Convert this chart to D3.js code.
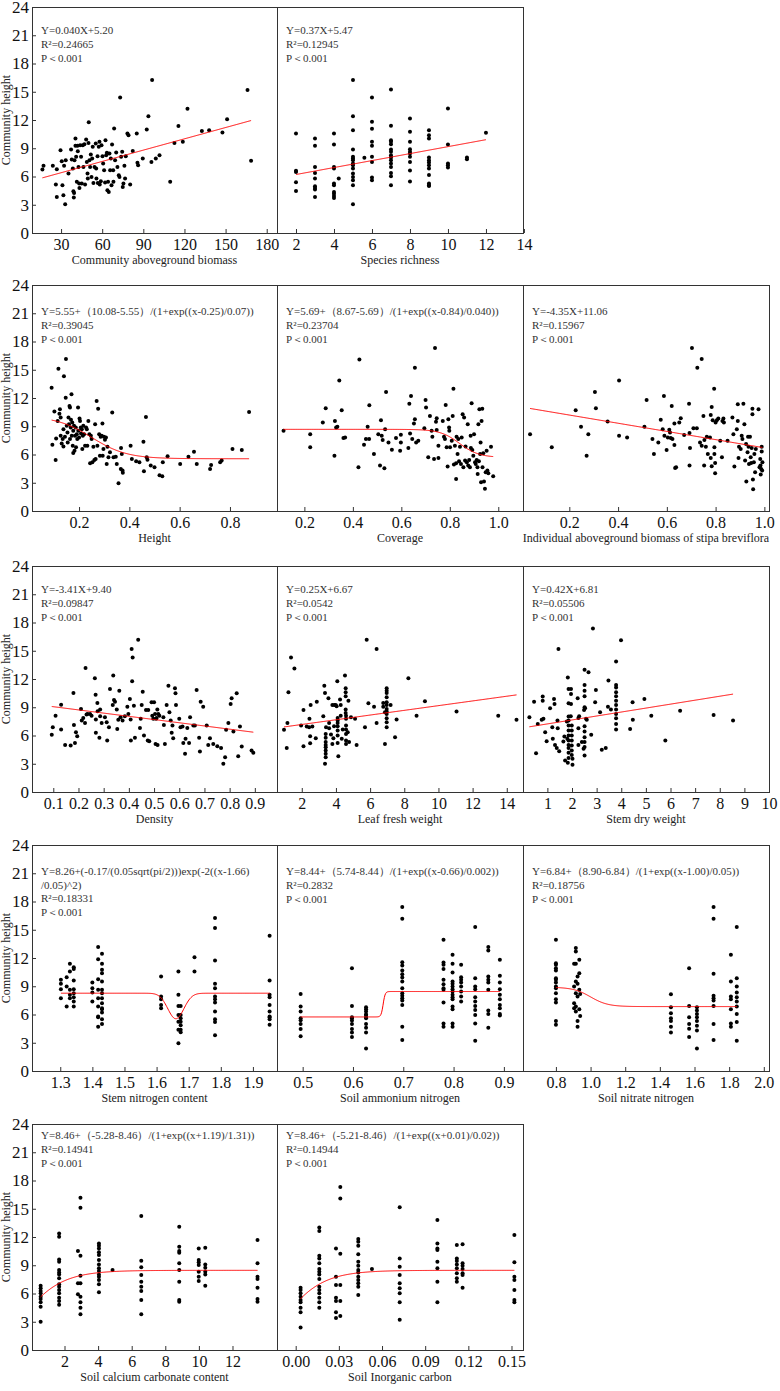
<!DOCTYPE html>
<html>
<head>
<meta charset="utf-8">
<script src="https://cdn.jsdelivr.net/npm/d3@7"></script>
<style>
body { margin: 0; background: #fff; }
svg text { font-family: "Liberation Serif", "Times New Roman", serif; }
</style>
</head>
<body>
<svg width="780" height="1391"></svg>
<script>
// ---- data (x, community height) ----
const biomass = [[16.4,6.74],[17.2,7.13],[24,7.13],[26.2,5.14],[26.9,3.83],[26.9,6.77],[29.6,8.79],[30.5,7.62],[31,5.07],[31.7,4.0],[32.2,7.13],[33,3.05],[33.4,7.73],[35.4,6.31],[37.3,8.87],[37.8,7.8],[38.6,6.84],[39,4.43],[39.3,3.76],[39.5,4.26],[39.8,7.73],[40.5,10.04],[40.5,9.26],[41,8.09],[41.5,5.43],[42,9.26],[42.2,8.69],[42.7,7.02],[43.2,5.25],[43.4,4.79],[43.9,9.33],[44.6,8.09],[45.1,5.25],[45.8,9.33],[46.3,7.02],[47,9.43],[47.5,5.14],[48.3,9.93],[48.8,7.55],[49.3,6.31],[49.5,5.78],[50,9.57],[50.2,11.77],[50.7,7.73],[51.2,7.02],[51.7,8.33],[52.2,5.96],[52.7,7.91],[53.1,9.15],[53.6,5.32],[54.4,7.02],[55.3,9.5],[55.6,6.84],[55.8,5.78],[56.6,8.16],[56.8,5.32],[57.5,9.15],[58,9.68],[58.2,5.14],[59,5.5],[59.5,9.33],[60.2,8.16],[60.7,7.38],[61.4,6.67],[62.1,5.35],[62.4,9.86],[62.9,8.26],[63.4,8.51],[63.8,4.54],[64.3,5.43],[64.8,4.36],[65.3,8.44],[65.8,6.67],[66.3,7.91],[66.8,5.07],[67.2,9.4],[68,6.67],[68.2,5.43],[68.7,11.1],[69.4,7.73],[70.2,8.55],[71.1,7.02],[72.1,6.13],[72.6,5.96],[73.1,14.4],[73.8,8.09],[74.6,8.62],[75,4.89],[75.5,5.25],[76.2,7.13],[76.7,5.78],[77.2,8.16],[78.4,10.57],[79.2,10.39],[80.4,5.14],[82.3,8.72],[85.2,10.57],[85.7,7.45],[86.2,7.2],[89.6,7.91],[92.5,10.99],[93.7,12.41],[95.9,7.55],[96.4,16.24],[99.1,7.91],[101.8,8.26],[109.6,5.43],[112.7,9.57],[115.6,11.35],[118.8,9.68],[122.2,13.19],[132.7,10.82],[138,10.92],[147.7,10.67],[151.1,12.09],[166,15.18],[168.6,7.66]];

// grouped: [x, [heights]]
const richness = [[2,[10.57,6.6,6.49,5.39,4.47]],[3,[10.04,9.26,7.02,6.38,5.78,4.96,4.79,4.61,3.83]],[4,[10.57,9.4,7.02,6.84,5.25,5.07,4.36,4.18,3.94,3.72]],[4.25,[5.78]],[5,[16.24,12.41,10.92,8.87,8.09,7.91,7.73,7.38,7.2,6.84,6.31,5.96,5.6,5.07,3.05]],[5.6,[7.98]],[6,[14.4,11.81,11.06,9.68,9.26,8.09,7.55,5.89,5.6]],[7,[15.25,11.38,9.86,9.68,9.43,8.87,8.62,8.26,8.01,7.73,7.38,7.02,6.38,6.03,5.07]],[8,[12.16,10.74,9.68,8.9,8.62,8.44,8.09,7.55,6.63,5.46]],[9,[10.92,10.39,10.04,8.01,7.73,7.48,7.2,6.84,6.17,5.25,5.07,5.0]],[10,[13.23,9.4,7.38,7.2,6.95]],[11,[8.01,7.84]],[12,[10.64]]];

const heightPts = [[0.091,13.09],[0.094,7.04],[0.102,10.56],[0.107,5.42],[0.109,7.71],[0.115,9.57],[0.118,15.1],[0.122,10.34],[0.124,10.8],[0.127,9.92],[0.127,7.99],[0.131,7.18],[0.135,7.64],[0.138,8.69],[0.138,6.86],[0.14,14.32],[0.144,7.88],[0.147,12.03],[0.148,16.15],[0.151,9.04],[0.154,8.34],[0.155,7.28],[0.158,9.92],[0.16,9.22],[0.162,11.15],[0.164,10.98],[0.164,7.64],[0.167,8.87],[0.168,9.68],[0.17,12.39],[0.171,7.99],[0.173,9.39],[0.175,6.93],[0.177,8.52],[0.177,6.16],[0.18,9.04],[0.182,6.4],[0.184,7.99],[0.187,8.87],[0.188,6.76],[0.191,8.16],[0.193,7.64],[0.196,10.98],[0.197,8.52],[0.2,7.81],[0.202,9.82],[0.204,9.57],[0.207,8.87],[0.208,8.23],[0.211,8.69],[0.213,6.58],[0.215,7.99],[0.217,9.04],[0.22,8.16],[0.224,6.93],[0.228,8.87],[0.231,8.69],[0.233,6.93],[0.237,9.57],[0.241,8.16],[0.244,5.07],[0.247,7.99],[0.25,7.64],[0.253,5.17],[0.257,6.83],[0.261,5.42],[0.264,9.22],[0.266,5.52],[0.27,11.68],[0.273,6.93],[0.276,10.87],[0.28,8.16],[0.283,5.88],[0.286,7.88],[0.29,7.99],[0.293,9.29],[0.294,5.88],[0.297,6.58],[0.299,7.88],[0.303,7.57],[0.307,7.81],[0.31,5.0],[0.313,6.83],[0.317,5.7],[0.323,6.23],[0.332,10.45],[0.337,5.7],[0.346,5.77],[0.35,5.0],[0.357,2.96],[0.366,4.47],[0.367,6.69],[0.37,6.05],[0.373,4.29],[0.374,4.05],[0.405,6.93],[0.41,5.52],[0.427,5.28],[0.44,5.17],[0.456,7.35],[0.458,4.22],[0.466,9.99],[0.469,5.7],[0.472,5.45],[0.485,4.82],[0.5,4.64],[0.52,3.8],[0.531,3.69],[0.533,5.17],[0.552,5.81],[0.602,5.0],[0.635,5.77],[0.657,6.3],[0.668,5.0],[0.721,4.47],[0.725,4.89],[0.761,5.17],[0.767,5.35],[0.81,6.58],[0.847,6.47],[0.876,10.52]];

const coverage = [[0.114,8.52],[0.224,8.16],[0.224,6.76],[0.276,9.39],[0.288,10.91],[0.324,5.88],[0.326,9.57],[0.331,8.87],[0.336,8.94],[0.344,13.86],[0.354,10.7],[0.361,7.74],[0.368,7.81],[0.423,4.64],[0.427,16.08],[0.446,7.04],[0.454,7.64],[0.461,8.94],[0.467,7.64],[0.468,11.22],[0.487,6.05],[0.505,8.16],[0.512,4.82],[0.516,9.64],[0.519,7.99],[0.523,7.53],[0.53,4.54],[0.533,8.69],[0.537,12.63],[0.547,7.28],[0.561,6.51],[0.578,7.74],[0.595,6.4],[0.598,8.09],[0.598,7.28],[0.629,6.69],[0.633,11.4],[0.636,8.23],[0.64,12.21],[0.645,7.64],[0.652,9.29],[0.656,15.2],[0.656,9.75],[0.661,7.28],[0.67,7.46],[0.695,8.8],[0.7,11.79],[0.702,10.98],[0.711,5.7],[0.718,10.1],[0.725,8.52],[0.728,7.88],[0.735,5.52],[0.739,17.31],[0.743,9.47],[0.746,9.85],[0.746,8.59],[0.753,6.93],[0.753,5.63],[0.771,9.57],[0.776,7.88],[0.78,7.64],[0.783,11.26],[0.787,6.76],[0.791,4.72],[0.794,9.75],[0.797,8.87],[0.798,8.52],[0.801,6.76],[0.808,7.46],[0.812,10.1],[0.815,12.98],[0.817,4.93],[0.821,6.93],[0.826,5.07],[0.826,3.41],[0.828,7.88],[0.832,6.05],[0.835,7.64],[0.838,5.28],[0.842,6.83],[0.846,5.0],[0.849,7.81],[0.853,10.27],[0.856,4.64],[0.859,9.92],[0.863,5.35],[0.865,6.86],[0.87,5.17],[0.874,9.22],[0.876,4.82],[0.88,5.42],[0.883,4.64],[0.886,7.99],[0.887,6.69],[0.89,11.44],[0.893,6.47],[0.897,5.88],[0.9,8.16],[0.904,5.17],[0.907,5.0],[0.911,5.42],[0.914,4.64],[0.915,3.94],[0.918,9.22],[0.92,5.28],[0.922,10.8],[0.925,6.05],[0.927,7.28],[0.929,3.06],[0.931,9.57],[0.934,10.87],[0.935,4.64],[0.938,6.12],[0.941,3.13],[0.945,2.36],[0.948,4.12],[0.952,6.4],[0.955,4.29],[0.959,4.01],[0.97,6.83],[0.979,3.69]];

const individual = [[0.039,8.16],[0.128,6.76],[0.226,10.7],[0.248,8.94],[0.271,5.88],[0.278,8.16],[0.305,12.63],[0.309,10.91],[0.357,9.5],[0.404,13.86],[0.404,7.99],[0.437,7.81],[0.508,8.94],[0.517,11.79],[0.541,7.64],[0.547,6.05],[0.565,7.28],[0.575,9.68],[0.583,8.69],[0.588,12.21],[0.59,7.99],[0.599,6.47],[0.604,7.81],[0.61,8.62],[0.613,8.34],[0.616,7.74],[0.62,11.15],[0.623,7.64],[0.631,9.29],[0.631,7.0],[0.634,4.57],[0.638,4.64],[0.651,9.39],[0.657,9.85],[0.671,8.06],[0.691,11.4],[0.693,8.27],[0.695,6.69],[0.693,4.82],[0.703,17.31],[0.709,8.8],[0.723,8.8],[0.725,15.2],[0.736,7.28],[0.743,16.15],[0.743,6.93],[0.75,10.1],[0.753,4.82],[0.754,7.53],[0.76,6.83],[0.764,7.88],[0.768,6.05],[0.777,7.81],[0.78,10.2],[0.78,5.63],[0.784,4.75],[0.784,11.05],[0.788,9.64],[0.794,12.98],[0.795,6.76],[0.795,6.05],[0.798,5.1],[0.798,4.01],[0.8,9.39],[0.805,9.64],[0.811,9.82],[0.819,7.46],[0.826,5.7],[0.828,9.57],[0.832,9.82],[0.834,9.39],[0.849,7.46],[0.869,9.92],[0.873,8.16],[0.877,4.72],[0.887,8.69],[0.891,9.57],[0.891,11.33],[0.894,5.63],[0.896,6.83],[0.903,6.58],[0.907,7.99],[0.91,7.64],[0.914,11.4],[0.918,9.22],[0.921,5.35],[0.925,7.11],[0.926,3.13],[0.931,6.23],[0.933,7.88],[0.935,6.83],[0.937,5.0],[0.941,7.88],[0.944,5.7],[0.946,5.1],[0.948,6.69],[0.951,10.87],[0.951,10.27],[0.953,3.34],[0.954,2.32],[0.957,5.17],[0.959,6.05],[0.962,4.12],[0.965,6.58],[0.976,10.8],[0.98,4.64],[0.983,5.52],[0.984,4.82],[0.985,3.87],[0.987,4.47],[0.989,6.83],[0.989,6.33],[0.991,4.29],[0.992,5.17]];

const density = [[0.094,6.07],[0.098,6.88],[0.109,8.11],[0.131,9.27],[0.131,6.63],[0.147,5.0],[0.169,4.93],[0.18,10.51],[0.182,7.12],[0.186,5.21],[0.19,6.35],[0.195,5.92],[0.21,8.82],[0.213,7.58],[0.219,7.87],[0.226,7.34],[0.228,13.16],[0.232,8.22],[0.236,8.29],[0.246,8.29],[0.252,8.11],[0.265,12.07],[0.268,10.34],[0.269,7.69],[0.269,6.28],[0.275,9.46],[0.276,8.57],[0.283,5.75],[0.286,8.04],[0.286,8.75],[0.292,7.34],[0.305,7.94],[0.312,7.41],[0.314,5.47],[0.321,6.88],[0.325,10.94],[0.336,9.24],[0.338,12.36],[0.341,9.77],[0.345,9.59],[0.352,8.75],[0.354,6.7],[0.358,7.66],[0.362,10.76],[0.367,7.94],[0.375,7.59],[0.384,8.04],[0.394,9.06],[0.398,8.29],[0.404,9.88],[0.407,7.69],[0.408,5.47],[0.411,15.18],[0.413,11.76],[0.415,14.29],[0.42,9.17],[0.424,5.75],[0.437,16.16],[0.444,6.8],[0.447,7.77],[0.451,9.24],[0.455,10.65],[0.46,6.0],[0.468,8.71],[0.475,5.47],[0.477,8.71],[0.481,5.4],[0.49,9.53],[0.493,8.11],[0.497,7.77],[0.5,9.53],[0.504,8.29],[0.506,5.11],[0.508,7.77],[0.51,7.87],[0.513,8.75],[0.514,5.0],[0.517,8.29],[0.521,8.11],[0.537,7.94],[0.539,7.12],[0.543,5.11],[0.55,9.24],[0.557,11.29],[0.561,8.47],[0.566,7.59],[0.57,6.28],[0.573,7.05],[0.576,5.72],[0.583,11.01],[0.585,10.48],[0.587,9.24],[0.6,7.77],[0.605,6.88],[0.613,6.95],[0.616,5.21],[0.623,4.05],[0.625,5.65],[0.632,6.8],[0.639,5.21],[0.643,7.94],[0.656,7.05],[0.662,7.05],[0.669,10.83],[0.679,5.75],[0.682,4.3],[0.685,9.59],[0.695,9.06],[0.709,7.05],[0.715,5.0],[0.722,5.72],[0.735,5.11],[0.751,4.87],[0.766,4.66],[0.775,2.99],[0.782,3.7],[0.786,6.6],[0.795,7.34],[0.804,9.35],[0.808,9.95],[0.815,6.42],[0.828,10.48],[0.834,3.8],[0.841,6.95],[0.848,4.83],[0.887,4.4],[0.894,4.16]];

const leafFresh = [[0.96,6.6],[1.12,4.66],[1.16,7.34],[1.22,10.59],[1.37,14.29],[1.57,13.12],[1.96,7.05],[2.1,8.71],[2.1,4.87],[2.29,6.95],[2.43,6.88],[2.45,7.77],[2.49,5.92],[2.49,5.18],[2.52,9.24],[2.62,6.95],[2.82,5.72],[2.88,9.59],[3.26,8.04],[3.32,11.29],[3.36,10.52],[3.36,3.0],[3.4,6.17],[3.4,5.75],[3.4,5.3],[3.4,5.0],[3.4,4.76],[3.4,4.4],[3.4,4.05],[3.4,3.7],[3.42,6.88],[3.56,9.95],[3.6,7.34],[3.6,6.77],[3.71,6.1],[3.79,9.24],[3.79,5.11],[3.85,5.72],[3.89,6.98],[3.91,9.24],[3.99,9.24],[4.04,9.1],[4.08,11.76],[4.1,7.87],[4.1,7.59],[4.1,7.34],[4.1,6.98],[4.1,6.53],[4.1,6.0],[4.1,5.21],[4.14,3.8],[4.24,9.81],[4.28,9.24],[4.28,8.11],[4.34,5.65],[4.4,6.63],[4.53,12.36],[4.57,11.01],[4.57,10.59],[4.57,10.16],[4.57,8.75],[4.57,8.4],[4.59,8.11],[4.59,7.77],[4.59,7.05],[4.59,6.63],[4.59,6.17],[4.59,5.47],[4.59,5.11],[4.69,6.35],[4.73,9.7],[4.77,5.3],[4.88,7.94],[5.12,7.77],[5.21,5.0],[5.7,6.88],[5.8,16.16],[5.9,9.42],[6.23,9.06],[6.38,15.18],[6.38,7.34],[6.77,9.06],[6.77,9.46],[6.87,8.47],[6.87,5.11],[6.97,11.01],[6.97,10.76],[6.97,10.52],[6.97,10.06],[6.97,9.53],[6.97,9.24],[6.97,8.82],[6.97,8.54],[6.97,8.29],[6.97,7.84],[6.97,7.41],[6.97,6.88],[7.2,9.24],[7.46,5.82],[7.55,7.69],[8.24,12.07],[8.72,8.11],[9.21,9.63],[11.06,8.54],[13.5,8.11],[14.57,7.66]];

const stemDry = [[0.27,7.94],[0.46,9.59],[0.54,4.12],[0.61,7.23],[0.77,7.66],[0.81,10.13],[0.81,9.7],[0.84,7.77],[0.91,6.35],[0.97,5.4],[1.11,8.89],[1.2,6.88],[1.22,5.65],[1.27,9.88],[1.29,9.35],[1.31,5.0],[1.38,4.66],[1.41,7.59],[1.42,6.77],[1.45,15.18],[1.48,4.34],[1.65,5.36],[1.69,5.89],[1.72,3.35],[1.79,7.48],[1.81,5.65],[1.83,12.17],[1.86,10.94],[1.86,9.42],[1.86,8.01],[1.86,7.59],[1.86,7.05],[1.86,6.52],[1.86,5.99],[1.86,5.47],[1.86,5.0],[1.86,4.66],[1.86,4.16],[1.86,3.6],[1.83,3.1],[1.95,8.04],[1.96,10.94],[1.96,10.41],[1.96,9.35],[1.99,7.05],[1.99,6.52],[1.99,5.99],[1.99,5.47],[1.99,4.93],[1.99,4.4],[1.99,3.94],[2.02,2.89],[2.02,3.52],[2.23,9.95],[2.26,7.87],[2.26,6.77],[2.26,5.0],[2.29,8.04],[2.4,5.3],[2.47,4.59],[2.49,8.71],[2.51,12.99],[2.51,11.36],[2.51,10.76],[2.51,10.16],[2.51,8.99],[2.51,6.98],[2.51,6.42],[2.51,5.82],[2.51,5.3],[2.51,4.77],[2.51,3.88],[2.53,8.89],[2.57,7.77],[2.6,7.66],[2.67,12.71],[2.78,6.07],[2.85,17.37],[2.94,9.53],[2.97,10.83],[3.14,8.47],[3.21,4.48],[3.37,4.66],[3.46,9.06],[3.48,11.83],[3.58,8.75],[3.79,13.86],[3.79,11.36],[3.79,11.11],[3.79,10.59],[3.79,10.16],[3.79,9.7],[3.79,9.24],[3.79,8.75],[3.79,8.29],[3.79,7.84],[3.79,7.23],[3.79,6.63],[3.99,16.12],[4.36,6.7],[4.46,9.53],[4.47,7.66],[4.94,9.88],[5.22,8.11],[5.79,5.47],[6.39,8.64],[7.75,8.18],[8.54,7.59]];

const stemN = [[1.302,[9.68,9.26,8.69,7.73]],[1.32,[9.96,8.97,6.84]],[1.33,[8.62,11.38,10.57,8.09,7.73]],[1.342,[11.03,10.82,9.61,8.69,8.26,7.84,7.38,6.84]],[1.4,[9.4,8.79,8.33,7.38]],[1.418,[9.75,11.88,13.16,6.84,5.78,8.62,7.73,5.7,4.7]],[1.43,[10.74,6.56,12.45,11.38,10.39,9.5,8.62,8.26,7.73,7.2,6.67,6.21,5.5,5.0]],[1.614,[10.04,7.91,7.62,7.02,6.67]],[1.668,[10.57,8.09,6.91,5.96,5.23,4.37,2.94]],[1.675,[6.91,5.96,5.6,4.87,4.37,4.12,5.23]],[1.718,[12.09,10.57]],[1.782,[16.24,15.18,11.74,9.26,8.79,7.91,7.62,7.27,6.31,5.5,5.2,3.8]],[1.952,[14.36,9.61,8.09,7.84,7.02,6.31,5.78,5.5,5.7,4.9]]];

const ammonium = [[0.496,[8.19,6.84,6.31,5.6,5.4,5.0,4.45,3.7]],[0.598,[10.92,6.91,5.6,5.7,5.37,5.0,4.45,4.1,3.6]],[0.626,[6.77,6.56,6.31,5.96,5.71,6.0,5.6,5.0,4.6,4.1,2.4]],[0.698,[17.41,16.17,11.56,11.21,10.67,10.28,9.93,9.5,8.79,8.26,7.98,7.73,7.48,7.02,4.7,3.3]],[0.78,[13.94,11.52,11.28,10.82,9.68,9.22,8.79,8.62,7.27,5.05,4.7]],[0.798,[12.34,11.38,10.46,9.5,9.26,8.97,8.69,8.44,8.09,7.84,7.62,6.84,6.56,5.05,4.7]],[0.815,[11.28,9.96,9.68,9.4,8.97,8.44,7.91,7.38]],[0.843,[15.28,9.86,8.97,8.69,7.84,7.38,6.91,6.49,5.96,5.05,3.2]],[0.869,[13.16,12.8,10.04,9.68,9.4,8.62,6.42,6.06,4.6]],[0.892,[11.81,10.11,9.4,8.69,8.09,7.62,7.02,6.67,6.06,5.9]]];

const nitrate = [[0.8,[13.94,11.45,11.28,10.92,10.67,9.86,9.68,9.4,8.97,8.79,8.26,7.62,7.27,5.3,4.9]],[0.905,[11.38,8.97,7.2,6.67]],[0.915,[13.05,12.7,11.38,9.5,8.26,6.84,6.31]],[0.925,[10.04,9.26,7.91,5.3,4.7]],[0.935,[11.81,10.39,8.62,6.56]],[0.94,[8.19,5.85]],[1.464,[8.16,6.77,6.13,5.6,5.3,4.7,4.1]],[1.569,[10.92,6.91,5.71,5.0,4.5,3.6]],[1.614,[6.77,6.42,6.06,5.71,5.3,4.8,4.3,2.4]],[1.71,[17.41,16.17,10.32,7.98,7.73,7.48,6.91,5.0,3.3]],[1.81,[12.34,9.5,7.91,7.62,6.56,5.05,4.7]],[1.844,[15.28,9.86,8.97,8.33,7.84,7.38,6.84,6.06,5.2,3.2]]];

const calcium = [[0.58,[6.83,6.55,6.26,6.02,5.66,5.41,5.06,4.6,3.0]],[1.68,[12.38,12.03,9.62,9.38,8.49,8.24,8.03,7.61,6.97,6.72,6.37,6.02,5.56,5.2,4.8]],[2.8,[10.51,7.08,5.91]],[2.95,[10.01,16.17,15.11,7.89,7.08,5.66,5.06,4.5,3.8]],[4.05,[11.32,11.08,10.79,10.37,10.08,9.55,9.09,8.67,8.39,8.03,7.78,7.43,6.97,6.12]],[4.86,[8.49]],[6.57,[14.23,9.48,8.78,7.96,7.25,6.72,6.26,5.31,3.8]],[8.83,[13.09,10.97,10.51,10.33,9.2,8.49,7.25,5.31,5.13]],[9.99,[10.79,9.55,9.31,9.02,8.32,7.78,7.32]],[10.38,[10.86,9.09,8.74,8.32,8.03,6.83]],[13.49,[11.68,9.2,7.78,7.54,6.62,5.41,5.13]]];

const carbon = [[0.0034,[6.62,6.37,6.02,5.66,5.31,5.06,4.5,4.0,2.4]],[0.0164,[13.02,12.63,10.01,9.73,9.2,8.6,8.32,8.03,7.54,6.72,6.37,6.02,5.56,5.06,4.5]],[0.028,[10.79,7.78,6.9,5.56,5.2,4.0,3.4]],[0.031,[10.23,17.3,16.1,6.9,5.2,3.6]],[0.0435,[11.78,11.5,11.08,10.16,9.38,8.95,8.49,8.24,7.78,7.43,7.08,6.72,5.84]],[0.053,[8.6]],[0.0723,[15.15,9.73,8.85,7.96,7.08,6.55,6.02,5.06,3.2]],[0.0985,[13.8,11.32,10.79,10.62,9.38,8.67,7.25,5.06]],[0.112,[11.15,9.73,9.45,9.09,8.67,8.14,7.61,7.25]],[0.116,[11.22,9.2,8.95,8.6,8.14,7.96,6.62]],[0.152,[12.21,9.31,7.78,7.43,6.37,5.31,5.06]]];

const yTicks = [0, 3, 6, 9, 12, 15, 18, 21, 24];

function flat(groups) {
  const out = [];
  groups.forEach(g => g[1].forEach(v => out.push([g[0], v])));
  return out;
}
function logistic(a1, a2, x0, dx) {
  return x => a2 + (a1 - a2) / (1 + Math.exp((x - x0) / dx));
}

const panels = [
  {row:0, col:0, pts:biomass, dom:[8.8,187.5], ticks:[30,60,90,120,150,180], fmt:d3.format("d"),
   label:"Community aboveground biomass", eq:["Y=0.040X+5.20","R²=0.24665","P＜0.001"], fit:x => 0.040*x + 5.20},
  {row:0, col:1, pts:flat(richness), dom:[1,13.95], ticks:[2,4,6,8,10,12,14], fmt:d3.format("d"),
   label:"Species richness", eq:["Y=0.37X+5.47","R²=0.12945","P＜0.001"], fit:x => 0.37*x + 5.47},
  {row:1, col:0, pts:heightPts, dom:[0.013,0.987], ticks:[0.2,0.4,0.6,0.8], fmt:d3.format(".1f"),
   label:"Height", eq:["Y=5.55+（10.08-5.55）/(1+exp((x-0.25)/0.07))","R²=0.39045","P＜0.001"], fit:logistic(10.08,5.55,0.25,0.07)},
  {row:1, col:1, pts:coverage, dom:[0.087,1.102], ticks:[0.2,0.4,0.6,0.8,1.0], fmt:d3.format(".1f"),
   label:"Coverage", eq:["Y=5.69+（8.67-5.69）/(1+exp((x-0.84)/0.040))","R²=0.23704","P＜0.001"], fit:logistic(8.67,5.69,0.84,0.04)},
  {row:1, col:2, pts:individual, dom:[0.01,1.019], ticks:[0.2,0.4,0.6,0.8,1.0], fmt:d3.format(".1f"),
   label:"Individual aboveground biomass of stipa breviflora", eq:["Y=-4.35X+11.06","R²=0.15967","P＜0.001"], fit:x => -4.35*x + 11.06},
  {row:2, col:0, pts:density, dom:[0.0155,0.988], ticks:[0.1,0.2,0.3,0.4,0.5,0.6,0.7,0.8,0.9], fmt:d3.format(".1f"),
   label:"Density", eq:["Y=-3.41X+9.40","R²=0.09847","P＜0.001"], fit:x => -3.41*x + 9.40},
  {row:2, col:1, pts:leafFresh, dom:[0.55,14.95], ticks:[2,4,6,8,10,12,14], fmt:d3.format("d"),
   label:"Leaf fresh weight", eq:["Y=0.25X+6.67","R²=0.0542","P＜0.001"], fit:x => 0.25*x + 6.67},
  {row:2, col:2, pts:stemDry, dom:[0.01,10.0], ticks:[1,2,3,4,5,6,7,8,9,10], fmt:d3.format("d"),
   label:"Stem dry weight", eq:["Y=0.42X+6.81","R²=0.05506","P＜0.001"], fit:x => 0.42*x + 6.81},
  {row:3, col:0, pts:flat(stemN), dom:[1.212,1.975], ticks:[1.3,1.4,1.5,1.6,1.7,1.8,1.9], fmt:d3.format(".1f"),
   label:"Stem nitrogen content", eq:["Y=8.26+(-0.17/(0.05sqrt(pi/2)))exp(-2((x-1.66)","/0.05)^2)","R²=0.18331","P＜0.001"],
   fit:x => 8.26 + (-0.17 / (0.05 * Math.sqrt(Math.PI / 2))) * Math.exp(-2 * Math.pow((x - 1.66) / 0.05, 2))},
  {row:3, col:1, pts:flat(ammonium), dom:[0.449,0.938], ticks:[0.5,0.6,0.7,0.8,0.9], fmt:d3.format(".1f"),
   label:"Soil ammonium nitrogen", eq:["Y=8.44+（5.74-8.44）/(1+exp((x-0.66)/0.002))","R²=0.2832","P＜0.001"], fit:logistic(5.74,8.44,0.66,0.002)},
  {row:3, col:2, pts:flat(nitrate), dom:[0.61,2.03], ticks:[0.8,1.0,1.2,1.4,1.6,1.8,2.0], fmt:d3.format(".1f"),
   label:"Soil nitrate nitrogen", eq:["Y=6.84+（8.90-6.84）/(1+exp((x-1.00)/0.05))","R²=0.18756","P＜0.001"], fit:logistic(8.90,6.84,1.00,0.05)},
  {row:4, col:0, pts:flat(calcium), dom:[0.065,14.65], ticks:[2,4,6,8,10,12], fmt:d3.format("d"),
   label:"Soil calcium carbonate content", eq:["Y=8.46+（-5.28-8.46）/(1+exp((x+1.19)/1.31))","R²=0.14941","P＜0.001"], fit:logistic(-5.28,8.46,-1.19,1.31)},
  {row:4, col:1, pts:flat(carbon), dom:[-0.013,0.158], ticks:[0,0.03,0.06,0.09,0.12,0.15], fmt:d3.format(".2f"),
   label:"Soil Inorganic carbon", eq:["Y=8.46+（-5.21-8.46）/(1+exp((x+0.01)/0.02))","R²=0.14944","P＜0.001"], fit:logistic(-5.21,8.46,-0.0158,0.0152)}
];

// ---- layout ----
const svg = d3.select("svg");
const colX = [32, 277, 523, 769];
const rowTop = [7, 285, 566, 845, 1124];
const plotH = 226;
const eqTop = [27, 30, 27, 30, 15];

panels.forEach(p => {
  const x0 = colX[p.col], x1 = colX[p.col + 1];
  const top = rowTop[p.row], bot = top + plotH;
  const x = d3.scaleLinear().domain(p.dom).range([x0, x1]);
  const y = d3.scaleLinear().domain([0, 24]).range([bot, top]);
  const g = svg.append("g");

  // x axis, ticks pointing in
  const ax = g.append("g")
    .attr("transform", "translate(0," + bot + ")")
    .call(d3.axisBottom(x).tickValues(p.ticks).tickFormat(p.fmt).tickSize(-4).tickPadding(6));
  ax.select(".domain").remove();
  ax.selectAll("line").attr("stroke", "#333");
  ax.selectAll("text").attr("font-size", 16).attr("fill", "#111")
    .attr("font-family", "Liberation Serif");

  if (p.col === 0) {
    const ay = g.append("g")
      .attr("transform", "translate(" + x0 + ",0)")
      .call(d3.axisLeft(y).tickValues(yTicks).tickSize(-4).tickPadding(3));
    ay.select(".domain").remove();
    ay.selectAll("line").attr("stroke", "#333");
    ay.selectAll("text").attr("font-size", 17).attr("fill", "#111")
      .attr("font-family", "Liberation Serif");
    g.append("text")
      .attr("transform", "translate(10," + (top + plotH / 2) + ") rotate(-90)")
      .attr("text-anchor", "middle")
      .attr("font-size", 12)
      .attr("fill", "#222")
      .text("Community height");
  }

  // frame
  g.append("rect")
    .attr("x", x0 + 0.5).attr("y", top + 0.5)
    .attr("width", x1 - x0).attr("height", plotH)
    .attr("fill", "none").attr("stroke", "#333").attr("stroke-width", 1);

  // x label
  g.append("text")
    .attr("x", (x0 + x1) / 2).attr("y", bot + 31)
    .attr("text-anchor", "middle").attr("font-size", 12).attr("fill", "#222")
    .text(p.label);

  // points
  g.selectAll("circle").data(p.pts).enter().append("circle")
    .attr("cx", d => x(d[0])).attr("cy", d => y(d[1]))
    .attr("r", 2).attr("fill", "#000");

  // fitted curve across the data range
  const ext = d3.extent(p.pts, d => d[0]);
  const xs = d3.range(0, 301).map(i => ext[0] + (ext[1] - ext[0]) * i / 300);
  g.append("path")
    .datum(xs)
    .attr("fill", "none").attr("stroke", "#f00").attr("stroke-width", 1)
    .attr("d", d3.line().x(d => x(d)).y(d => y(p.fit(d))));

  // equation text
  const lh = p.eq.length > 3 ? 13.6 : 14;
  p.eq.forEach((t, i) => {
    g.append("text")
      .attr("x", x0 + 9).attr("y", top + eqTop[p.row] + i * lh)
      .attr("font-size", 11).attr("fill", "#333")
      .text(t);
  });
});
</script>
</body>
</html>
